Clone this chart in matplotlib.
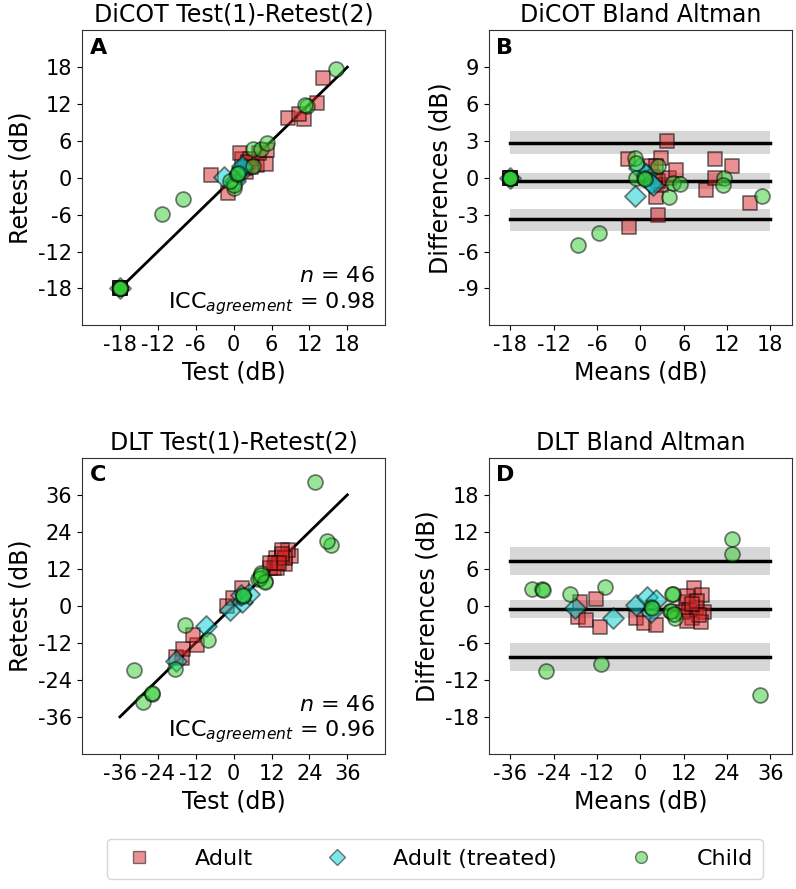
import numpy as np
import matplotlib.pyplot as plt
from matplotlib.lines import Line2D

plt.rcParams['font.family'] = 'DejaVu Sans'
plt.rcParams['axes.unicode_minus'] = False

groups = ['Adult', 'Adult (treated)', 'Child']
colors = ['tab:red', 'darkturquoise', 'limegreen']
markers = ['s', 'D', 'o']

# DiCOT, Bland-Altman means and differences (test - retest), read per group
dicot_adult_mean = [-18, -18, -18, -18, -1.7, -1.6, 1.5, 1.7, 2.2, 2.5, 2.85,
                    2.85, 2.4, 3.7, 4.0, 4.9, 9.15, 10.35, 10.35, 12.66, 15.14, 2.2]
dicot_adult_diff = [0, 0, 0, 0, 1.5, -4.0, 1.0, 0.1, -1.6, -3.0, 1.6,
                    -0.55, -0.3, 3.0, 0.0, 0.67, -1.03, 1.54, 0.0, 1.0, -2.03, 1.0]
dicot_treated_mean = [-18, -0.7, -0.14, 0.78, 1.47, 1.7]
dicot_treated_diff = [0, -1.5, 0.8, 0.27, -0.4, -0.6]
dicot_child_mean = [-18, -18, -18, -18, -8.6, -5.7, -0.8, -0.6, -0.6, 0.55,
                    2.5, 3.9, 4.46, 5.48, 11.6, 11.5, 16.9, 0.7]
dicot_child_diff = [0, 0, 0, 0, -5.5, -4.5, 1.6, 1.2, 0.0, 0.0,
                    1.0, -1.55, -0.4, -0.47, 0.0, -0.55, -1.5, -0.1]

# DLT
dlt_adult_mean = [-16.7, -17.3, -15.0, -12.25, -11.3, -1.2, 1.1, 4.3, 14.9, 17.2, 12.6,
                  15.5, 17.7, 14.4, 16.7, 13.5, 11.9, 13.0, 15.8, 16.2, 14.2, 12.8]
dlt_adult_diff = [0.7, -1.75, -2.3, 1.1, -3.4, -2.0, -2.85, -3.1, 2.84, 1.75, 0.65,
                  -0.4, -0.95, -2.0, -2.6, -0.7, -0.95, 1.6, 0.8, -1.5, 0.3, -2.4]
dlt_treated_mean = [-18.0, -7.65, -1.2, 1.9, 4.3, 2.95]
dlt_treated_diff = [-0.3, -2.0, 0.1, 1.5, 0.9, -0.95]
dlt_child_mean = [-29.9, -27.2, -26.2, -19.5, -10.8, -9.7, 3.0, 8.9, 8.3, 9.7,
                  25.3, 25.3, 33.05, 3.2, 8.6, 8.8, 9.3, -27.0]
dlt_child_diff = [2.73, 2.7, -10.5, 2.0, -9.5, 3.0, -0.2, 1.9, -0.9, -1.9,
                  10.85, 8.36, -14.5, -0.4, -0.8, 2.0, -1.4, 2.6]

# bias / limits of agreement with their confidence bands (lo, hi)
dicot_lines = [2.85, -0.27, -3.39]
dicot_bands = [(1.95, 3.79), (-0.9, 0.35), (-4.34, -2.5)]
dlt_lines = [7.27, -0.55, -8.25]
dlt_bands = [(5.0, 9.5), (-1.9, 0.95), (-10.5, -6.0)]

dicot_icc = 0.98
dlt_icc = 0.96
n_pairs = 46


def scatter_groups(ax, xs, ys):
    for x, y, c, m in zip(xs, ys, colors, markers):
        ax.scatter(x, y, s=115, marker=m, color=c, edgecolors='k',
                   linewidths=1.3, alpha=0.5, zorder=3)


def plot_test(ax_sc, ax_ba, means, diffs, lines, bands, icc, lim, ba_ylim, step, title):
    means = [np.array(m, dtype=float) for m in means]
    diffs = [np.array(d, dtype=float) for d in diffs]
    tests = [m + d / 2 for m, d in zip(means, diffs)]
    retests = [m - d / 2 for m, d in zip(means, diffs)]

    ticks = np.arange(-lim, lim + 1, step)

    # test-retest scatter
    ax_sc.plot([-lim, lim], [-lim, lim], color='k', lw=2, zorder=2)
    scatter_groups(ax_sc, tests, retests)
    ax_sc.set_xlim(-lim * 4 / 3, lim * 4 / 3)
    ax_sc.set_ylim(-lim * 4 / 3, lim * 4 / 3)
    ax_sc.set_xticks(ticks)
    ax_sc.set_yticks(ticks)
    ax_sc.set_title(f'{title} Test(1)-Retest(2)', fontsize=17)
    ax_sc.set_xlabel('Test (dB)', fontsize=17)
    ax_sc.set_ylabel('Retest (dB)', fontsize=17)
    ax_sc.text(0.965, 0.03, f'$n$ = {n_pairs}\nICC$_{{agreement}}$ = {icc:.2f}',
               transform=ax_sc.transAxes, ha='right', va='bottom', fontsize=16,
               multialignment='right')

    # Bland-Altman
    for yv, (lo, hi) in zip(lines, bands):
        ax_ba.fill_between([-lim, lim], lo, hi, color='lightgray', alpha=0.9, lw=0, zorder=1)
        ax_ba.plot([-lim, lim], [yv, yv], color='k', lw=2.5, zorder=2)
    scatter_groups(ax_ba, means, diffs)
    ax_ba.set_xlim(-lim * 7 / 6, lim * 7 / 6)
    ax_ba.set_ylim(-ba_ylim, ba_ylim)
    ax_ba.set_xticks(ticks)
    ax_ba.set_yticks(np.arange(-ba_ylim * 3 / 4, ba_ylim * 3 / 4 + 0.1, ba_ylim / 4))
    ax_ba.set_title(f'{title} Bland Altman', fontsize=17)
    ax_ba.set_xlabel('Means (dB)', fontsize=17)
    ax_ba.set_ylabel('Differences (dB)', fontsize=17)

    for ax in (ax_sc, ax_ba):
        ax.tick_params(labelsize=15)
        for sp in ax.spines.values():
            sp.set_color('#333333')


fig = plt.figure(figsize=(7.96, 8.89), dpi=100)
axA = fig.add_axes([0.103, 0.634, 0.381, 0.332])
axB = fig.add_axes([0.614, 0.634, 0.381, 0.332])
axC = fig.add_axes([0.103, 0.152, 0.381, 0.333])
axD = fig.add_axes([0.614, 0.152, 0.381, 0.333])

plot_test(axA, axB,
          [dicot_adult_mean, dicot_treated_mean, dicot_child_mean],
          [dicot_adult_diff, dicot_treated_diff, dicot_child_diff],
          dicot_lines, dicot_bands, dicot_icc, 18, 12, 6, 'DiCOT')
plot_test(axC, axD,
          [dlt_adult_mean, dlt_treated_mean, dlt_child_mean],
          [dlt_adult_diff, dlt_treated_diff, dlt_child_diff],
          dlt_lines, dlt_bands, dlt_icc, 36, 24, 12, 'DLT')

for ax, letter in zip([axA, axB, axC, axD], 'ABCD'):
    ax.text(0.025, 0.975, letter, transform=ax.transAxes, ha='left', va='top',
            fontsize=16, fontweight='bold')

handles = [Line2D([], [], ls='none', marker=m, color=c, markeredgecolor='k',
                  markersize=8.5, alpha=0.5, label=g)
           for g, c, m in zip(groups, colors, markers)]
fig.legend(handles=handles, loc='center', bbox_to_anchor=(0.546, 0.034), ncol=3,
           fontsize=16, columnspacing=2.8, handletextpad=1.5, borderpad=0.45)

fig.savefig('out.png', dpi=100)
